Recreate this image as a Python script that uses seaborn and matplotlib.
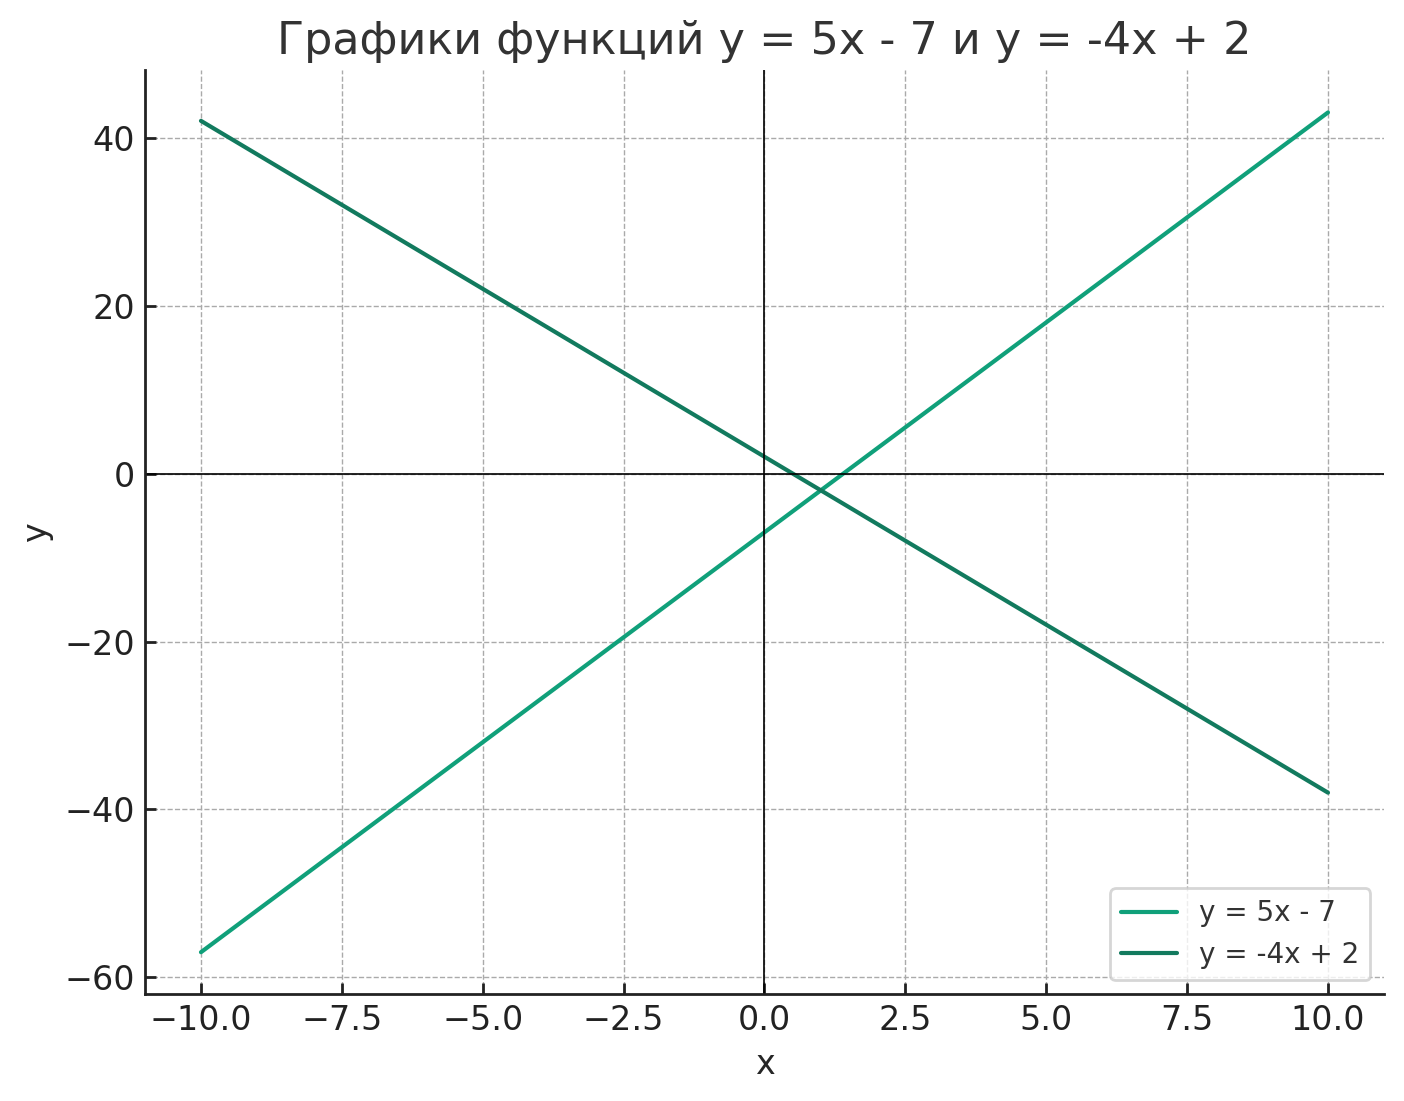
import pandas as pd
import matplotlib
matplotlib.use("Agg")
import matplotlib.pyplot as plt
import seaborn as sns

# endpoints of the two straight lines
x_vals = [-10, 10]
y_line1 = [-57, 43]
y_line2 = [42, -38]
labels = ["y = 5x - 7", "y = -4x + 2"]
colors = ["#10a07a", "#127a5e"]

df = pd.DataFrame({
    "x": x_vals + x_vals,
    "y": y_line1 + y_line2,
    "line": [labels[0]] * 2 + [labels[1]] * 2,
})

sns.set_style("ticks")
plt.rcParams['font.family'] = ['DejaVu Sans']

fig = plt.figure(figsize=(7.02, 5.505), dpi=200)
ax = fig.add_axes([0.103, 0.097, 0.883, 0.839])

sns.lineplot(data=df, x="x", y="y", hue="line", palette=colors, linewidth=1.5, ax=ax)

ax.axhline(0, color="black", linewidth=0.6)
ax.axvline(0, color="black", linewidth=0.6)
ax.grid(True, linestyle="--", color="#aaaaaa", linewidth=0.5)

ax.set_xticks([-10, -7.5, -5, -2.5, 0, 2.5, 5, 7.5, 10])
ax.set_yticks([-60, -40, -20, 0, 20, 40])
ax.set_xlim(-11, 11)
ax.set_ylim(-62, 48)
ax.tick_params(labelsize=12, colors="#222222", direction="in", width=1.0, length=4)
for s in ["left", "bottom"]:
    ax.spines[s].set_linewidth(1.0)
    ax.spines[s].set_color("#222222")
ax.set_xlabel("x", fontsize=12)
ax.set_ylabel("y", fontsize=12)
ax.set_title("Графики функций y = 5x - 7 и y = -4x + 2", fontsize=16, color="#333333")

sns.despine(ax=ax)
leg = ax.legend(loc="lower right", fontsize=10, title=None, labelcolor="#333333")
leg.get_frame().set_edgecolor("#cccccc")

fig.savefig("out.png", dpi=200)
